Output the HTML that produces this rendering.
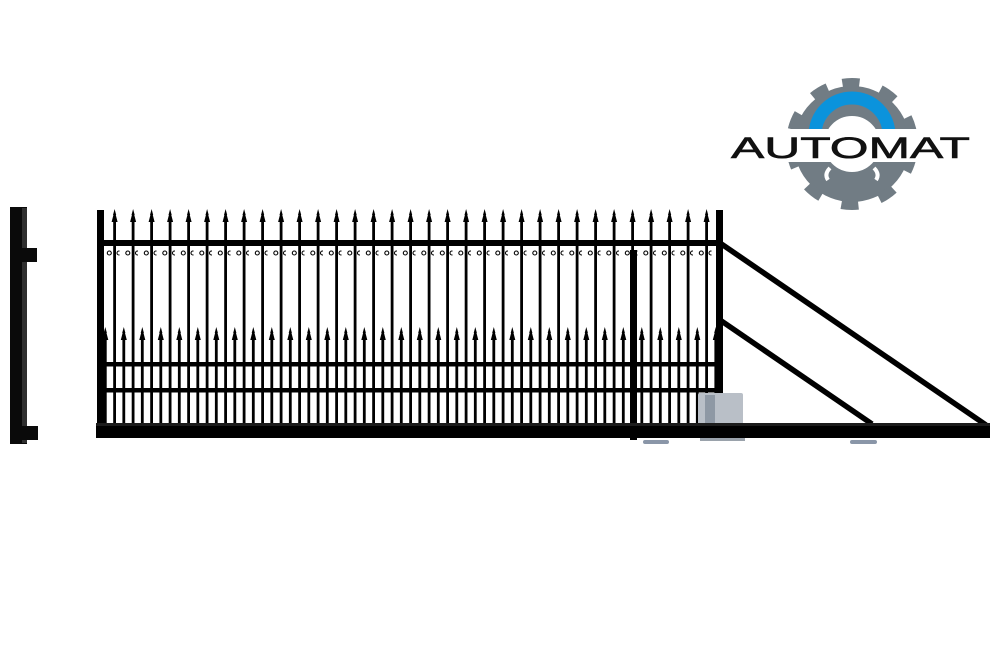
<!DOCTYPE html>
<html><head><meta charset="utf-8"><style>
html,body{margin:0;padding:0;background:#fff;}
svg{display:block;}
</style></head><body>
<svg width="1000" height="650" viewBox="0 0 1000 650" xmlns="http://www.w3.org/2000/svg">
<defs>
<pattern id="pk" patternUnits="userSpaceOnUse" x="101" y="0" width="18.5" height="650">
  <rect x="12.2" y="218" width="2.8" height="210" fill="#000"/>
  <path d="M13.6 209 L15.2 215 L14.8 215 L16.6 222 L10.6 222 L12.4 215 L12 215Z" fill="#000"/>
  <rect x="2.9" y="336" width="2.8" height="92" fill="#000"/>
  <path d="M4.3 327 L5.9 333 L5.5 333 L7.3 340 L1.3 340 L3.1 333 L2.7 333Z" fill="#000"/>
  <circle cx="8.3" cy="253" r="2" fill="none" stroke="#000" stroke-width="1.1"/>
  <circle cx="18" cy="253" r="2" fill="none" stroke="#000" stroke-width="1.1"/>
</pattern>
</defs>

<rect x="10" y="207" width="17" height="237" fill="#0a0a0a"/>
<rect x="22" y="208" width="5" height="235" fill="#2f2f2f"/>
<rect x="21" y="248" width="16" height="14" fill="#0a0a0a"/>
<rect x="21" y="426" width="17" height="14" fill="#0a0a0a"/>

<rect x="104" y="205" width="612" height="222" fill="url(#pk)"/>

<rect x="97" y="210" width="7" height="218" fill="#000"/>
<rect x="716" y="210" width="7" height="220" fill="#000"/>
<rect x="97" y="240" width="625" height="6" fill="#000"/>
<rect x="97" y="362" width="625" height="4.5" fill="#000"/>
<rect x="97" y="388" width="625" height="4.5" fill="#000"/>
<rect x="630" y="250" width="7" height="190" fill="#000"/>

<rect x="698" y="393" width="45" height="33" rx="2" fill="#b9bfc7"/>
<rect x="705" y="395" width="10" height="28" fill="#8e98a4"/>
<rect x="700" y="424" width="45" height="17" fill="#9aa2ab"/>

<line x1="720" y1="243" x2="986" y2="425" stroke="#000" stroke-width="5.5"/>
<line x1="720" y1="320" x2="872" y2="424" stroke="#000" stroke-width="5.5"/>

<rect x="96" y="423" width="894" height="15" fill="#000"/>
<rect x="96" y="423" width="894" height="3" fill="#1c1c1c"/>

<rect x="643" y="440" width="26" height="4" rx="2" fill="#8a96a8"/>
<rect x="850" y="440" width="27" height="4" rx="2" fill="#8a96a8"/>

<g>
  <circle cx="852" cy="144" r="43" fill="none" stroke="#717c84" stroke-width="30"/>
  <circle cx="852" cy="144" r="61" fill="none" stroke="#717c84" stroke-width="10" stroke-dasharray="17 21.96" transform="rotate(-99 852 144)"/>
  <path d="M815 135 A37 37 0 0 1 889 135" fill="none" stroke="#0b93dc" stroke-width="13"/>
  <rect x="776" y="129" width="152" height="33" fill="#fff"/>
  <path d="M830 168 q-6 6 -2 12 M874 168 q6 6 2 12" stroke="#fff" stroke-width="4" fill="none"/>
  <text x="731" y="158" font-family="Liberation Sans, sans-serif" font-size="30" fill="#111" stroke="#111" stroke-width="0.6" textLength="239" lengthAdjust="spacingAndGlyphs">AUTOMAT</text>
</g>
</svg>
</body></html>
